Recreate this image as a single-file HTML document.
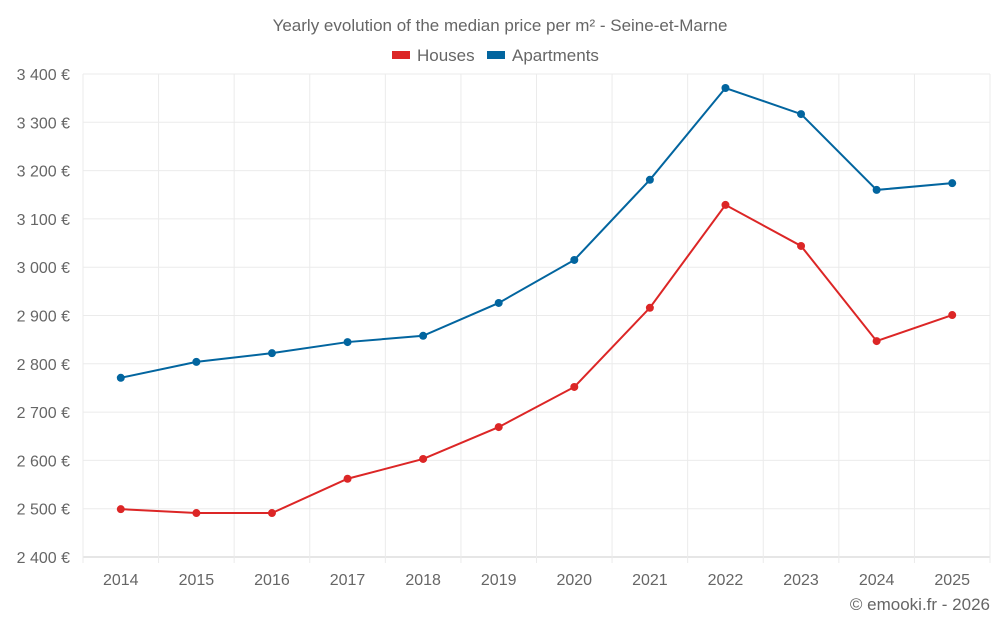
<!DOCTYPE html>
<html><head><meta charset="utf-8"><style>
body{margin:0;background:#fff;font-family:"Liberation Sans",sans-serif;}
svg text{font-family:"Liberation Sans",sans-serif;fill:#666;}
</style></head><body>
<svg id="chart" width="1000" height="625" xmlns="http://www.w3.org/2000/svg">
<text x="500" y="31" text-anchor="middle" font-size="17">Yearly evolution of the median price per m² - Seine-et-Marne</text>
<g>
<g><rect x="392" y="51" width="18" height="8" fill="#dc2626"/><text x="417" y="61" font-size="17">Houses</text></g>
<g><rect x="487" y="51" width="18" height="8" fill="#02659f"/><text x="512" y="61" font-size="17">Apartments</text></g>
</g>
<g id="grid"></g><g id="axes"></g><g id="series"></g>
<text x="990" y="610" text-anchor="end" font-size="17">© emooki.fr - 2026</text>
</svg>
<script>
const years=["2014","2015","2016","2017","2018","2019","2020","2021","2022","2023","2024","2025"];
const houses=[2499,2491,2491,2562,2603,2669,2752,2916,3129,3044,2847,2901];
const apartments=[2771,2804,2822,2845,2858,2926,3015,3181,3371,3317,3160,3174];
const yTicks=[2400,2500,2600,2700,2800,2900,3000,3100,3200,3300,3400];
const NS="http://www.w3.org/2000/svg";
const L=83,R=990,T=74,B=557,yMin=2400,yMax=3400;
const band=(R-L)/years.length;
const x=i=>L+band*(i+0.5);
const y=v=>B-(v-yMin)/(yMax-yMin)*(B-T);
function mk(tag,attrs,parent){const e=document.createElementNS(NS,tag);for(const k in attrs)e.setAttribute(k,attrs[k]);parent.appendChild(e);return e;}
const grid=document.getElementById('grid'),axes=document.getElementById('axes'),series=document.getElementById('series');
yTicks.forEach(t=>{
 const l=mk('line',{x1:L,x2:R,y1:y(t),y2:y(t),stroke:t===yMin?'#ccc':'#ebebeb','stroke-width':1},grid);
 
 
 const tx=mk('text',{x:70,y:y(t)+6,'text-anchor':'end','font-size':16},axes);
 tx.textContent=String(t).replace(/(\d)(\d{3})$/,'$1 $2')+' €';
 
 
});
for(let i=0;i<=years.length;i++){
 const l=mk('line',{x1:L+band*i,x2:L+band*i,y1:T,y2:B+(i<years.length+1?6:0),stroke:'#ebebeb','stroke-width':1},grid);
 
 
}
years.forEach((yr,i)=>{
 const tx=mk('text',{x:x(i),y:585,'text-anchor':'middle','font-size':16},axes);
 tx.textContent=yr;
 
 
});
function draw(vals,color,name){
 const p=mk('polyline',{points:vals.map((v,i)=>x(i)+','+y(v)).join(' '),fill:'none',stroke:color,'stroke-width':2},series);
 
 
 vals.forEach((v,i)=>{
  const c=mk('circle',{cx:x(i),cy:y(v),r:4,fill:color},series);
  
  
 });
}
draw(apartments,'#02659f','apartments');
draw(houses,'#dc2626','houses');
</script>
</body></html>
